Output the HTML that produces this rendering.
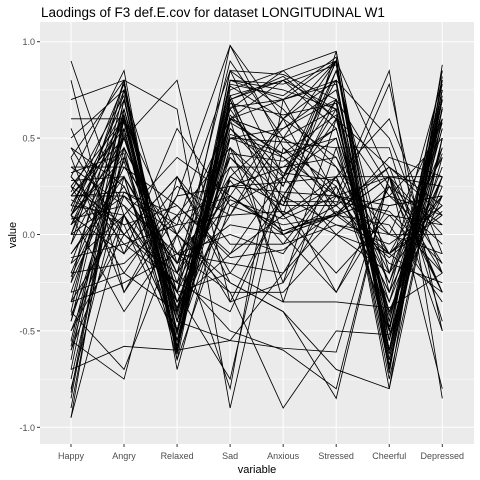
<!DOCTYPE html>
<html><head><meta charset="utf-8"><style>
body{margin:0;background:#fff;}
svg{display:block;font-family:"Liberation Sans",sans-serif;}
</style></head><body>
<svg id="chart" width="480" height="480">
<text x="41" y="17" font-size="13.5" fill="#000">Laodings of F3 def.E.cov for dataset LONGITUDINAL W1</text>
<rect x="40" y="22" width="434" height="422" fill="#EBEBEB"/>
<g id="grid"></g>
<g id="lines"></g>
<g id="axes"></g>
<text x="257" y="473" font-size="11" text-anchor="middle" fill="#000">variable</text>
<text x="16" y="235" font-size="11" text-anchor="middle" fill="#000" transform="rotate(-90 16 235)">value</text>
</svg>
<script>
const categories=["Happy","Angry","Relaxed","Sad","Anxious","Stressed","Cheerful","Depressed"];
const yTicks=[1.0,0.5,0.0,-0.5,-1.0];
const yTickLabels=["1.0","0.5","0.0","-0.5","-1.0"];
const series=[
[0.9,0.1,-0.5,0.8,0.7,0.9,-0.6,0.8],
[0.8,-0.3,0.2,0.98,0.6,0.9,-0.7,0.7],
[0.7,0.8,-0.6,0.75,0.85,0.95,-0.5,0.85],
[0.6,0.6,-0.4,0.7,0.8,0.65,-0.8,0.88],
[0.5,0.75,-0.55,0.6,0.5,0.9,-0.7,0.6],
[0.4,0.8,-0.6,0.85,0.3,0.7,-0.45,0.75],
[0.3,0.85,-0.65,0.7,0.82,0.6,0.2,0.5],
[0.25,0.6,0.0,-0.8,0.7,0.2,0.85,-0.85],
[0.2,0.55,-0.5,0.55,0.25,0.9,-0.6,0.7],
[0.2,0.22,0.1,0.2,0.02,0.1,0.3,0.0],
[0.15,0.65,-0.3,0.98,0.45,0.15,0.78,-0.5],
[0.1,0.7,-0.4,0.77,0.6,0.8,-0.65,0.8],
[0.1,0.4,-0.2,0.4,0.15,0.85,-0.3,0.7],
[0.05,0.5,0.8,-0.35,-0.25,0.6,-0.4,0.3],
[0.0,0.6,-0.45,0.65,0.85,0.6,-0.5,0.65],
[-0.05,0.8,0.65,-0.9,0.3,0.9,0.3,-0.8],
[-0.1,0.3,-0.6,0.5,0.4,0.1,0.4,0.3],
[-0.15,0.55,-0.5,0.8,0.75,0.65,-0.75,0.5],
[-0.2,0.45,-0.1,0.0,-0.1,0.3,-0.25,0.6],
[-0.25,0.8,-0.7,0.3,0.55,0.7,-0.6,0.75],
[-0.3,0.5,-0.25,0.72,0.1,0.95,-0.55,0.85],
[-0.35,0.65,-0.35,0.1,0.6,0.1,0.2,0.1],
[-0.4,0.75,-0.45,0.55,0.3,0.5,-0.6,0.5],
[-0.5,0.2,-0.15,0.3,0.15,0.15,0.35,-0.3],
[-0.55,0.55,-0.6,0.6,0.5,0.65,-0.7,0.7],
[-0.6,0.1,-0.5,0.45,0.2,0.65,-0.7,0.65],
[-0.7,0.6,-0.6,0.72,0.8,0.9,-0.5,0.78],
[-0.75,0.45,-0.1,0.2,0.0,0.15,-0.1,0.15],
[-0.8,0.3,-0.55,0.25,0.35,0.55,-0.45,0.55],
[-0.85,0.6,-0.4,0.4,0.1,0.25,-0.35,0.35],
[-0.95,0.65,-0.5,0.6,0.7,0.8,-0.65,0.7],
[-0.95,0.1,-0.3,-0.2,-0.35,0.45,-0.4,0.2],
[-0.7,-0.58,-0.6,-0.55,-0.59,-0.61,0.3,0.25],
[-0.55,-0.75,0.3,-0.25,-0.4,-0.85,0.3,-0.5],
[-0.4,-0.7,0.0,-0.3,-0.9,-0.5,-0.52,0.3],
[-0.3,-0.2,-0.4,0.7,0.0,-0.3,0.15,0.2],
[-0.15,0.1,-0.3,0.6,-0.35,-0.35,-0.38,-0.2],
[0.0,0.0,0.3,-0.05,-0.05,0.3,0.3,0.3],
[0.1,-0.1,0.55,0.15,0.3,0.0,-0.1,-0.3],
[0.2,0.2,0.0,0.35,0.0,0.1,0.3,-0.3],
[0.25,-0.2,0.2,0.25,0.27,0.3,0.6,-0.1],
[0.3,0.0,-0.25,-0.4,0.2,0.05,0.0,0.6],
[0.35,0.35,0.0,-0.25,-0.4,-0.7,-0.8,0.5],
[0.45,0.0,0.3,-0.2,0.2,0.6,0.35,0.15],
[0.55,-0.1,0.25,0.1,0.5,0.35,0.0,0.0],
[0.15,0.1,0.4,0.2,0.6,0.4,-0.1,0.2],
[0.1,-0.4,0.0,0.6,0.4,0.2,0.15,0.2],
[0.0,0.2,-0.15,0.5,0.48,0.45,0.45,-0.45],
[-0.1,0.25,-0.35,-0.1,0.3,0.8,0.5,-0.2],
[0.15,0.6,-0.45,0.2,0.02,0.11,0.35,0.1],
[0.1,0.58,-0.5,0.7,0.17,0.17,0.12,-0.15],
[0.2,0.5,-0.3,-0.75,0.45,0.25,-0.3,0.3],
[-0.2,-0.15,0.1,0.45,-0.25,0.2,0.0,-0.1],
[-0.25,0.35,0.15,-0.1,0.1,-0.2,0.1,-0.2],
[0.3,-0.05,0.05,0.85,0.65,0.35,-0.2,0.45],
[0.05,0.3,-0.2,0.9,0.5,0.2,0.3,-0.3],
[-0.45,0.7,-0.5,0.85,0.83,0.7,-0.55,0.4],
[0.35,0.15,-0.1,-0.3,-0.3,0.0,0.25,0.05],
[-0.6,0.4,-0.2,-0.5,-0.6,-0.8,0.3,-0.15],
[0.45,0.25,-0.3,0.6,0.8,0.55,-0.4,0.25],
[0.1,0.45,-0.65,0.15,0.05,0.1,-0.1,0.4],
[-0.35,0.1,-0.35,0.3,0.15,0.7,0.25,-0.3],
[0.25,0.05,-0.55,0.45,0.1,0.3,-0.5,0.7],
[0.0,0.75,-0.15,0.65,0.25,0.85,-0.2,0.8],
[-0.9,0.55,-0.62,0.78,0.72,0.92,-0.72,0.82],
[-0.82,0.62,-0.58,0.68,0.62,0.68,-0.62,0.72],
[-0.65,0.7,-0.52,0.58,0.42,0.62,-0.55,0.6],
[-0.58,0.52,-0.45,0.5,0.55,0.75,-0.48,0.55],
[-0.45,0.4,-0.38,0.42,0.38,0.55,-0.42,0.45],
[-0.5,0.0,-0.2,0.18,0.08,0.2,-0.15,-0.25],
[-0.35,-0.25,-0.1,-0.15,-0.2,0.1,0.05,-0.35],
[0.12,0.78,-0.62,0.8,0.78,0.88,-0.68,0.75],
[0.22,0.72,-0.58,0.66,0.7,0.78,-0.6,0.66],
[0.05,0.62,-0.42,0.52,0.42,0.5,-0.35,0.58],
[-0.05,0.5,-0.35,0.35,0.35,0.4,-0.25,0.42],
[0.28,0.3,-0.15,0.05,0.0,0.1,0.2,-0.05],
[0.18,0.05,0.15,-0.12,-0.08,0.12,-0.12,0.12],
[-0.12,-0.05,-0.25,0.25,0.22,0.2,0.1,0.05],
[0.4,-0.3,0.1,-0.35,0.2,-0.3,0.25,-0.2],
[-0.22,0.38,-0.45,-0.55,-0.2,0.25,-0.3,0.3],
[0.08,0.15,-0.3,0.28,-0.05,0.05,-0.05,0.15],
[-0.42,0.22,0.05,0.1,0.12,0.0,-0.2,0.2],
[0.32,0.42,-0.55,0.62,0.32,0.28,-0.1,0.1]
];
const NS="http://www.w3.org/2000/svg";
const x0=71, dx=53.04;
function xScale(i){return x0+i*dx;}
function yScale(v){return 234.5-v*192.8;}
const grid=document.getElementById('grid'), axes=document.getElementById('axes'), lines=document.getElementById('lines');
function mk(tag,attrs,parent){const e=document.createElementNS(NS,tag);for(const k in attrs)e.setAttribute(k,attrs[k]);parent.appendChild(e);return e;}
[0.75,0.25,-0.25,-0.75].forEach(v=>{
  const l=mk('line',{x1:40,x2:474,y1:yScale(v),y2:yScale(v),stroke:'#fff','stroke-width':0.5},grid);
  
  
});
yTicks.forEach((v,i)=>{
  const l=mk('line',{x1:40,x2:474,y1:yScale(v),y2:yScale(v),stroke:'#fff','stroke-width':1},grid);
  
  
  mk('line',{x1:37,x2:40,y1:yScale(v),y2:yScale(v),stroke:'#333','stroke-width':1},axes);
  const t=mk('text',{x:35,y:yScale(v)+3.5,'font-size':9,'text-anchor':'end',fill:'#4d4d4d'},axes);
  t.textContent=yTickLabels[i];
  
  
});
categories.forEach((c,i)=>{
  const l=mk('line',{x1:xScale(i),x2:xScale(i),y1:22,y2:444,stroke:'#fff','stroke-width':1},grid);
  
  
  mk('line',{x1:xScale(i),x2:xScale(i),y1:444,y2:447,stroke:'#333','stroke-width':1},axes);
  const t=mk('text',{x:xScale(i),y:459,'font-size':9,'text-anchor':'middle',fill:'#4d4d4d'},axes);
  t.textContent=c;
  
  
});
series.forEach((row,k)=>{
  const p=mk('polyline',{points:row.map((v,i)=>xScale(i)+','+yScale(v)).join(' '),fill:'none',stroke:'#000','stroke-width':0.85},lines);
  
  
});
</script>
</body></html>
